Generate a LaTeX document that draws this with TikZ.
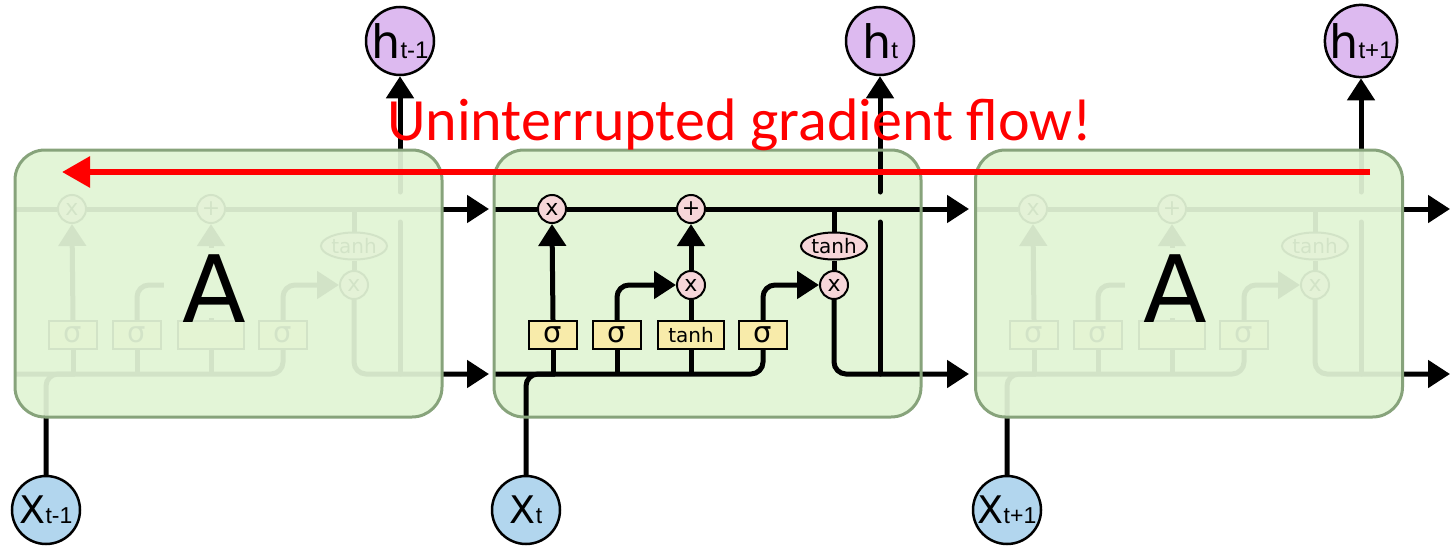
\documentclass[tikz,border=0pt]{standalone}
\usepackage{fontspec}
\setmainfont{DejaVu Sans}
\newfontfamily\calfont{Carlito}
\newfontfamily\arialfont{Liberation Sans}
\usetikzlibrary{arrows.meta,shapes.geometric}
\definecolor{blockfill}{RGB}{227,245,215}
\definecolor{blockdraw}{RGB}{135,163,123}
\definecolor{pinkc}{RGB}{246,214,217}
\definecolor{yellowc}{RGB}{248,235,170}
\definecolor{hpurple}{RGB}{221,186,240}
\definecolor{xblue}{RGB}{178,214,238}
\tikzset{
  wire/.style={line width=5pt},
  arr/.style={wire,-{Triangle[length=22pt,width=27pt]}},
  op/.style={circle,draw,line width=2pt,fill=pinkc,minimum size=28pt,inner sep=0pt,font=\fontsize{22}{22}\selectfont},
  gatebox/.style={rectangle,draw,line width=2pt,fill=yellowc,minimum width=48pt,minimum height=28pt,inner sep=0pt,font=\fontsize{29}{29}\selectfont},
  tanhbox/.style={gatebox,minimum width=66pt,font=\fontsize{20}{20}\selectfont},
  tanhell/.style={ellipse,draw,line width=2pt,fill=pinkc,minimum width=66pt,minimum height=27pt,inner sep=0pt,font=\fontsize{20}{20}\selectfont},
  hc/.style={circle,draw,line width=2.5pt,fill=hpurple,minimum size=68pt,inner sep=0pt},
  xc/.style={circle,draw,line width=2.5pt,fill=xblue,minimum size=68pt,inner sep=0pt},
  blockbg/.style={rectangle,rounded corners=30pt,fill=blockfill,minimum width=427pt,minimum height=267pt,inner sep=0pt},
  blockfg/.style={rectangle,rounded corners=30pt,draw=blockdraw,line width=3pt,minimum width=427pt,minimum height=267pt,inner sep=0pt},
  bigA/.style={inner sep=0pt,font=\fontsize{93}{93}\selectfont},
  patch/.style={rectangle,fill=blockfill,minimum width=100pt,minimum height=70pt,inner sep=0pt},
  redarrow/.style={draw=red,line width=6pt,-{Triangle[length=28pt,width=30pt]}},
}
\newcommand\hlab[1]{\fontsize{46}{46}\selectfont h\arialfont\fontsize{24}{24}\selectfont #1}
\newcommand\xlab[1]{\fontsize{38}{38}\selectfont X\arialfont\fontsize{23}{23}\selectfont #1}
% #1 prefix, #2 left x, #3 h subscript, #4 x subscript, #5 text of tanh box, #6 text of input-gate multiply
\newcommand\lstmcell[6]{%
\begin{scope}[shift={(#2,0)}]
  \node[op] (#1f) at (57,209) {x};
  \node[op] (#1p) at (196,209) {+};
  \node[op] (#1i) at (196,285) {#6};
  \node[op] (#1o) at (339,285) {x};
  \node[tanhell] (#1th) at (339,246) {tanh};
  \node[gatebox] (#1g1) at (58,335) {σ};
  \node[gatebox] (#1g2) at (122,335) {σ};
  \node[tanhbox] (#1g3) at (196,335) {#5};
  \node[gatebox] (#1g4) at (268,335) {σ};
  \node[hc] (#1h) at (385,41) {\hlab{#3}};
  \node[xc] (#1x) at (31,510) {\xlab{#4}};
  \coordinate (#1cin) at (0,209);
  \coordinate (#1cout) at (474,209);
  \coordinate (#1bin) at (0,374);
  \coordinate (#1bout) at (474,374);
  \coordinate (#1vlo) at (385,374);
  \coordinate (#1vgap1) at (385,222);
  \coordinate (#1vgap2) at (385,192);
  \coordinate (#1tap) at (339,209);
  % cell state line
  \draw[wire] (#1cin) -- (#1f.west);
  \draw[wire] (#1f.east) -- (#1p.west);
  \draw[arr] (#1p.east) -- (#1cout);
  % bottom input line
  \draw[wire,rounded corners=12pt] (#1bin) -| (#1g4.south);
  \draw[wire,rounded corners=12pt] (#1x.north) |- (60,374);
  \draw[wire] (#1g1.south) -- (58,374);
  \draw[wire] (#1g2.south) -- (122,374);
  \draw[wire] (#1g3.south) -- (196,374);
  % gates
  \draw[arr] (#1g1.north) -- (#1f.south);
  \draw[arr,rounded corners=12pt] (#1g2.north) |- (#1i.west);
  \draw[wire] (#1g3.north) -- (#1i.south);
  \draw[arr] (#1i.north) -- (#1p.south);
  \draw[arr,rounded corners=12pt] (#1g4.north) |- (#1o.west);
  % output
  \draw[wire] (#1tap) -- (#1th.north);
  \draw[wire] (#1th.south) -- (#1o.north);
  \draw[arr,rounded corners=12pt] (#1o.south) |- (#1bout);
  \draw[wire,line cap=round] (#1vlo) -- (#1vgap1);
  \draw[arr,line cap=round] (#1vgap2) -- (#1h.south);
\end{scope}}
\begin{document}
\begin{tikzpicture}[x=1pt,y=-1pt]
\useasboundingbox (0,0) rectangle (1451,546);
\node[blockbg] (B1) at (228.5,283.5) {};
\node[blockbg] (B2) at (707.5,283.5) {};
\node[blockbg] (B3) at (1189,283.5) {};
\lstmcell{a}{15}{t-1}{t-1}{}{}
\lstmcell{b}{495}{t}{t}{tanh}{x}
\lstmcell{c}{976}{t+1}{t+1}{}{}
% faded overlays
\node[blockfg,fill=blockfill,fill opacity=0.93] (O1) at (B1) {};
\node[blockfg,fill=blockfill,fill opacity=0.93] (O3) at (B3) {};
\node[blockfg] (O2) at (B2) {};
\node[patch] (P1) at (214,283) {};
\node[patch] (P3) at (1175,283) {};
\node[bigA] (A1) at (214,289) {A};
\node[bigA] (A3) at (1175,289) {A};
% red arrow and text
\coordinate (rs) at (1370,172);
\coordinate (re) at (62,172);
\draw[redarrow] (rs) -- (re);
\node[anchor=base west,inner sep=0pt,text=red,font=\calfont\fontsize{60}{60}\selectfont] (title) at (387,140) {Uninterrupted gradient flow!};
\end{tikzpicture}
\end{document}
